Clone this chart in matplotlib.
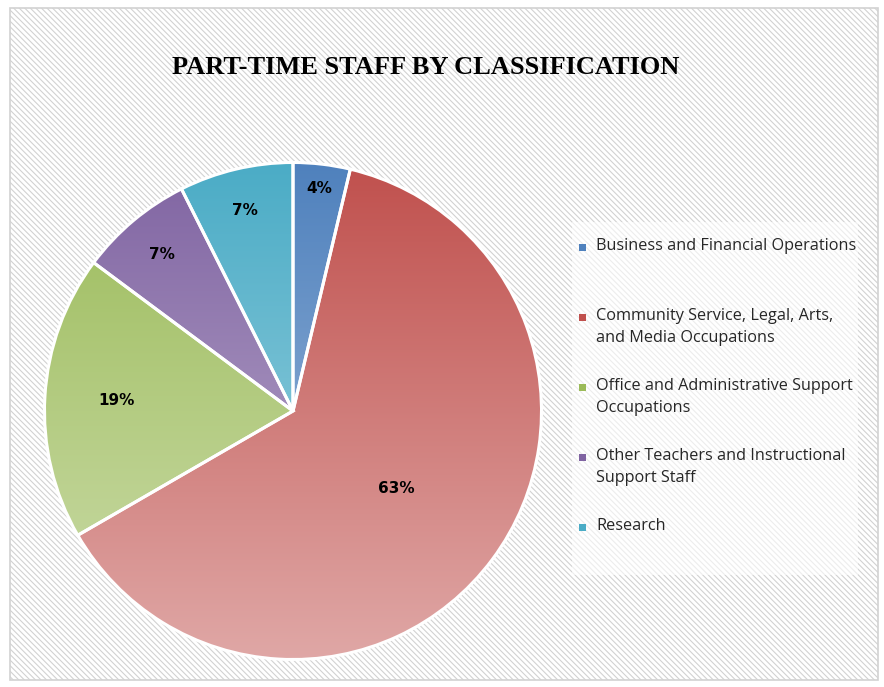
import numpy as np
import matplotlib
matplotlib.use("Agg")
import matplotlib.pyplot as plt
from matplotlib.colors import to_rgb
from matplotlib.patches import Rectangle

W, H = 884, 687

# --- data -----------------------------------------------------------------
categories = [
    "Business and Financial Operations",
    "Community Service, Legal, Arts,\nand Media Occupations",
    "Office and Administrative Support\nOccupations",
    "Other Teachers and Instructional\nSupport Staff",
    "Research",
]
counts = [1, 17, 5, 2, 2]
colors = ["#4F81BD", "#C0504D", "#9BBB59", "#8064A2", "#4BACC6"]
label_r = [0.90, 0.52, 0.71, 0.82, 0.83]   # label distance from centre

plt.rcParams["hatch.linewidth"] = 0.8
fig = plt.figure(figsize=(W / 100, H / 100), dpi=100)
fig.patch.set_facecolor("white")


def px(x, y):
    """pixel (from top-left) -> figure fraction"""
    return x / W, 1 - y / H


# hatched chart background with a thin grey frame
x0, y0 = px(10, 680)
x1, y1 = px(878, 8)
fig.patches.append(Rectangle((x0, y0), x1 - x0, y1 - y0, transform=fig.transFigure,
                             facecolor="white", edgecolor="#d2d2d2", hatch="\\\\\\\\\\\\",
                             linewidth=1.2, zorder=-2))
# lighter legend panel
lx0, ly0 = px(572, 575)
lx1, ly1 = px(858, 222)
fig.patches.append(Rectangle((lx0, ly0), lx1 - lx0, ly1 - ly0, transform=fig.transFigure,
                             facecolor="white", edgecolor="none", alpha=0.6, zorder=-1))

fig.text(*px(426, 67), "PART-TIME STAFF BY CLASSIFICATION", ha="center", va="center",
         fontsize=19, fontweight="bold", family="Liberation Serif")

# --- pie ------------------------------------------------------------------
cx, cy, R = 293, 411, 251
ax = fig.add_axes([(cx - R) / W, 1 - (cy + R) / H, 2 * R / W, 2 * R / H])
ax.set_xlim(-1.01, 1.01)
ax.set_ylim(-1.01, 1.01)
ax.axis("off")

wedges, _ = ax.pie(counts, startangle=90, counterclock=False, radius=1,
                   wedgeprops=dict(edgecolor="white", linewidth=2.2))

# vertical gradient: full colour at top, lighter at bottom
t = np.linspace(0, 1, 256)[:, None]
for w, c in zip(wedges, colors):
    base = np.array(to_rgb(c))
    grad = base[None, None, :] * (1 - 0.5 * t[..., None]) + 0.5 * t[..., None]
    grad = np.repeat(grad, 2, axis=1)
    im = ax.imshow(grad, extent=(-1, 1, -1, 1), origin="upper", aspect="auto", zorder=1)
    im.set_clip_path(w)
    w.set_facecolor("none")
    w.set_zorder(2)
ax.set_xlim(-1.01, 1.01)
ax.set_ylim(-1.01, 1.01)

total = sum(counts)
cum = 0
for v, r in zip(counts, label_r):
    mid = np.deg2rad(90 - 360 * (cum + v / 2) / total)
    cum += v
    ax.text(r * np.cos(mid), r * np.sin(mid), f"{round(100 * v / total):.0f}%",
            ha="center", va="center", fontsize=11, fontweight="bold", zorder=3)

# --- legend ---------------------------------------------------------------
for i, (name, c) in enumerate(zip(categories, colors)):
    ypix = 247 + 70 * i
    fig.patches.append(Rectangle(px(579, ypix + 3.5), 7 / W, 7 / H,
                                 transform=fig.transFigure, facecolor=c,
                                 edgecolor="none", zorder=2))
    fig.text(*px(596, ypix - 9), name, ha="left", va="top", fontsize=11.7,
             family="Open Sans", color="#262626", linespacing=1.5)

fig.savefig("out.png", dpi=100)
